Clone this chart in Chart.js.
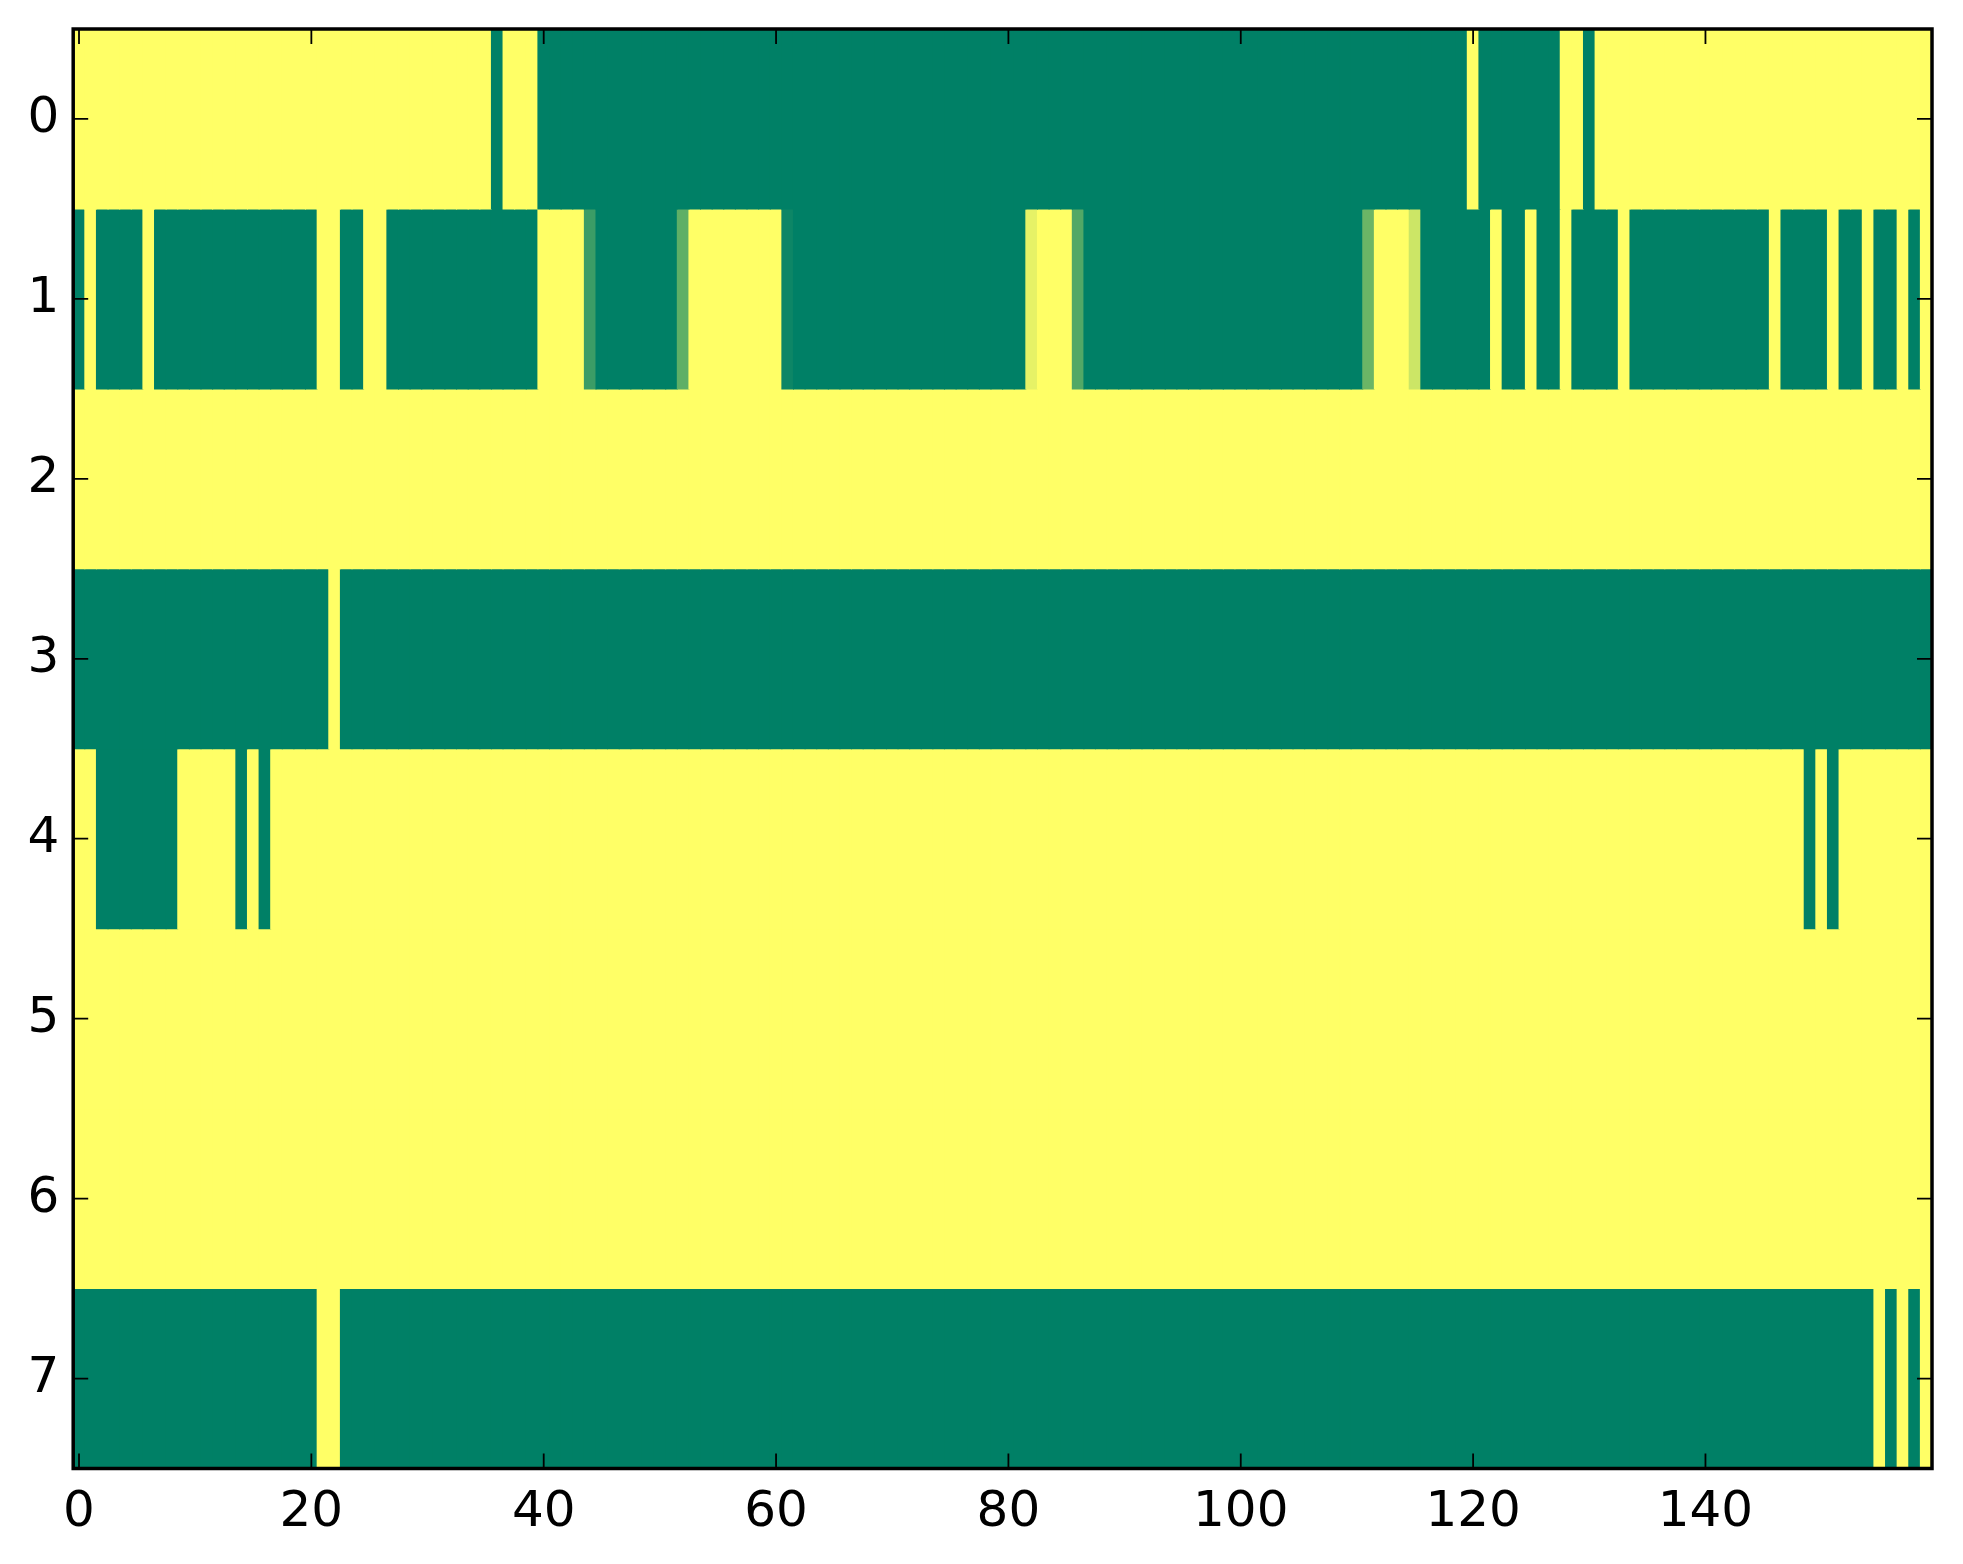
<!DOCTYPE html>
<html>
<head>
<meta charset="utf-8">
<script src="https://cdn.jsdelivr.net/npm/chart.js@4.4.1/dist/chart.umd.min.js"></script>
<style>
  html, body { margin: 0; padding: 0; background: #ffffff; }
  #wrap { width: 1963px; height: 1564px; position: relative; }
</style>
</head>
<body>
<div id="wrap"><canvas id="heatmap"></canvas></div>
<script>
// one array per image row, 160 columns each (0 = green, 1 = yellow, summer colormap)
const row0 = [
  1,1,1,1,1,1,1,1,1,1,1,1,1,1,1,1,1,1,1,1,
  1,1,1,1,1,1,1,1,1,1,1,1,1,1,1,1,0,1,1,1,
  0,0,0,0,0,0,0,0,0,0,0,0,0,0,0,0,0,0,0,0,
  0,0,0,0,0,0,0,0,0,0,0,0,0,0,0,0,0,0,0,0,
  0,0,0,0,0,0,0,0,0,0,0,0,0,0,0,0,0,0,0,0,
  0,0,0,0,0,0,0,0,0,0,0,0,0,0,0,0,0,0,0,0,
  1,0,0,0,0,0,0,0,1,1,0,1,1,1,1,1,1,1,1,1,
  1,1,1,1,1,1,1,1,1,1,1,1,1,1,1,1,1,1,1,1
];
const row1 = [
  0,1,0,0,0,0,1,0,0,0,0,0,0,0,0,0,0,0,0,0,
  0,1,1,0,0,1,1,0,0,0,0,0,0,0,0,0,0,0,0,0,
  1,1,1,1,0.23,0,0,0,0,0,0,0,0.37,1,1,1,1,1,1,1,
  1,0.05,0,0,0,0,0,0,0,0,0,0,0,0,0,0,0,0,0,0,
  0,0,0.9,1,1,1,0.32,0,0,0,0,0,0,0,0,0,0,0,0,0,
  0,0,0,0,0,0,0,0,0,0,0,0.42,1,1,1,0.8,0,0,0,0,
  0,0,1,0,0,1,0,0,1,0,0,0,0,1,0,0,0,0,0,0,
  0,0,0,0,0,0,1,0,0,0,0,1,0,0,1,0,0,1,0,1
];
const row2 = [
  1,1,1,1,1,1,1,1,1,1,1,1,1,1,1,1,1,1,1,1,
  1,1,1,1,1,1,1,1,1,1,1,1,1,1,1,1,1,1,1,1,
  1,1,1,1,1,1,1,1,1,1,1,1,1,1,1,1,1,1,1,1,
  1,1,1,1,1,1,1,1,1,1,1,1,1,1,1,1,1,1,1,1,
  1,1,1,1,1,1,1,1,1,1,1,1,1,1,1,1,1,1,1,1,
  1,1,1,1,1,1,1,1,1,1,1,1,1,1,1,1,1,1,1,1,
  1,1,1,1,1,1,1,1,1,1,1,1,1,1,1,1,1,1,1,1,
  1,1,1,1,1,1,1,1,1,1,1,1,1,1,1,1,1,1,1,1
];
const row3 = [
  0,0,0,0,0,0,0,0,0,0,0,0,0,0,0,0,0,0,0,0,
  0,0,1,0,0,0,0,0,0,0,0,0,0,0,0,0,0,0,0,0,
  0,0,0,0,0,0,0,0,0,0,0,0,0,0,0,0,0,0,0,0,
  0,0,0,0,0,0,0,0,0,0,0,0,0,0,0,0,0,0,0,0,
  0,0,0,0,0,0,0,0,0,0,0,0,0,0,0,0,0,0,0,0,
  0,0,0,0,0,0,0,0,0,0,0,0,0,0,0,0,0,0,0,0,
  0,0,0,0,0,0,0,0,0,0,0,0,0,0,0,0,0,0,0,0,
  0,0,0,0,0,0,0,0,0,0,0,0,0,0,0,0,0,0,0,0
];
const row4 = [
  1,1,0,0,0,0,0,0,0,1,1,1,1,1,0,1,0,1,1,1,
  1,1,1,1,1,1,1,1,1,1,1,1,1,1,1,1,1,1,1,1,
  1,1,1,1,1,1,1,1,1,1,1,1,1,1,1,1,1,1,1,1,
  1,1,1,1,1,1,1,1,1,1,1,1,1,1,1,1,1,1,1,1,
  1,1,1,1,1,1,1,1,1,1,1,1,1,1,1,1,1,1,1,1,
  1,1,1,1,1,1,1,1,1,1,1,1,1,1,1,1,1,1,1,1,
  1,1,1,1,1,1,1,1,1,1,1,1,1,1,1,1,1,1,1,1,
  1,1,1,1,1,1,1,1,1,0,1,0,1,1,1,1,1,1,1,1
];
const row5 = [
  1,1,1,1,1,1,1,1,1,1,1,1,1,1,1,1,1,1,1,1,
  1,1,1,1,1,1,1,1,1,1,1,1,1,1,1,1,1,1,1,1,
  1,1,1,1,1,1,1,1,1,1,1,1,1,1,1,1,1,1,1,1,
  1,1,1,1,1,1,1,1,1,1,1,1,1,1,1,1,1,1,1,1,
  1,1,1,1,1,1,1,1,1,1,1,1,1,1,1,1,1,1,1,1,
  1,1,1,1,1,1,1,1,1,1,1,1,1,1,1,1,1,1,1,1,
  1,1,1,1,1,1,1,1,1,1,1,1,1,1,1,1,1,1,1,1,
  1,1,1,1,1,1,1,1,1,1,1,1,1,1,1,1,1,1,1,1
];
const row6 = [
  1,1,1,1,1,1,1,1,1,1,1,1,1,1,1,1,1,1,1,1,
  1,1,1,1,1,1,1,1,1,1,1,1,1,1,1,1,1,1,1,1,
  1,1,1,1,1,1,1,1,1,1,1,1,1,1,1,1,1,1,1,1,
  1,1,1,1,1,1,1,1,1,1,1,1,1,1,1,1,1,1,1,1,
  1,1,1,1,1,1,1,1,1,1,1,1,1,1,1,1,1,1,1,1,
  1,1,1,1,1,1,1,1,1,1,1,1,1,1,1,1,1,1,1,1,
  1,1,1,1,1,1,1,1,1,1,1,1,1,1,1,1,1,1,1,1,
  1,1,1,1,1,1,1,1,1,1,1,1,1,1,1,1,1,1,1,1
];
const row7 = [
  0,0,0,0,0,0,0,0,0,0,0,0,0,0,0,0,0,0,0,0,
  0,1,1,0,0,0,0,0,0,0,0,0,0,0,0,0,0,0,0,0,
  0,0,0,0,0,0,0,0,0,0,0,0,0,0,0,0,0,0,0,0,
  0,0,0,0,0,0,0,0,0,0,0,0,0,0,0,0,0,0,0,0,
  0,0,0,0,0,0,0,0,0,0,0,0,0,0,0,0,0,0,0,0,
  0,0,0,0,0,0,0,0,0,0,0,0,0,0,0,0,0,0,0,0,
  0,0,0,0,0,0,0,0,0,0,0,0,0,0,0,0,0,0,0,0,
  0,0,0,0,0,0,0,0,0,0,0,0,0,0,0,1,0,1,0,1
];

const rows = [row0, row1, row2, row3, row4, row5, row6, row7];
const xTicks = [0, 20, 40, 60, 80, 100, 120, 140];
const yTicks = [0, 1, 2, 3, 4, 5, 6, 7];

// matplotlib "summer": r = v, g = 0.5 + 0.5v, b = 0.4
function summer(v) {
    const r = Math.round(255 * v);
    const g = Math.round(255 * (0.5 + 0.5 * v));
    return 'rgb(' + r + ',' + g + ',102)';
}

const datasets = rows.map((vals, r) => ({
    label: 'row ' + r,
    data: vals.map((v, c) => ({ x: c, y: [r - 0.5, r + 0.5] })),
    backgroundColor: vals.map(v => summer(v)),
    borderWidth: 0,
    inflateAmount: 0.5,
    barPercentage: 1,
    categoryPercentage: 1,
    grouped: false
}));

// frame + inward tick marks on all four sides, like the classic matplotlib style
const frameTicks = {
    id: 'frameTicks',
    afterDraw(chart) {
        const ctx = chart.ctx;
        const a = chart.chartArea;
        const xs = chart.scales.x;
        const ys = chart.scales.y;
        const len = 15;
        ctx.save();
        ctx.strokeStyle = '#000';
        ctx.lineWidth = 1.8;
        ctx.beginPath();
        xTicks.forEach(v => {
            const px = xs.getPixelForValue(v);
            ctx.moveTo(px, a.bottom); ctx.lineTo(px, a.bottom - len);
            ctx.moveTo(px, a.top); ctx.lineTo(px, a.top + len);
        });
        yTicks.forEach(v => {
            const py = ys.getPixelForValue(v);
            ctx.moveTo(a.left, py); ctx.lineTo(a.left + len, py);
            ctx.moveTo(a.right, py); ctx.lineTo(a.right - len, py);
        });
        ctx.stroke();
        ctx.lineWidth = 3.5;
        ctx.strokeRect(a.left, a.top, a.right - a.left, a.bottom - a.top);
        ctx.restore();
    }
};

const ctx = document.getElementById('heatmap');
new Chart(ctx, {
    type: 'bar',
    data: { datasets: datasets },
    options: {
        responsive: true,
        maintainAspectRatio: false,
        devicePixelRatio: 1,
        animation: false,
        layout: { padding: { top: 29, right: 31, left: 0, bottom: 0 } },
        scales: {
            x: {
                type: 'linear',
                min: -0.5,
                max: 159.5,
                offset: false,
                grid: { display: false },
                border: { display: false },
                afterBuildTicks: s => { s.ticks = xTicks.map(v => ({ value: v })); },
                afterFit: s => { s.height = 95.5; s.paddingLeft = 0; s.paddingRight = 0; },
                ticks: {
                    color: '#000',
                    padding: 7,
                    maxRotation: 0,
                    autoSkip: false,
                    font: { family: 'DejaVu Sans', size: 50 }
                }
            },
            y: {
                type: 'linear',
                reverse: true,
                min: -0.5,
                max: 7.5,
                grid: { display: false },
                border: { display: false },
                afterBuildTicks: s => { s.ticks = yTicks.map(v => ({ value: v })); },
                afterFit: s => { s.width = 73.2; s.paddingTop = 0; s.paddingBottom = 0; },
                ticks: {
                    color: '#000',
                    padding: 6,
                    autoSkip: false,
                    font: { family: 'DejaVu Sans', size: 50 }
                }
            }
        },
        plugins: {
            legend: { display: false },
            tooltip: { enabled: false }
        }
    },
    plugins: [frameTicks]
});
</script>
</body>
</html>
